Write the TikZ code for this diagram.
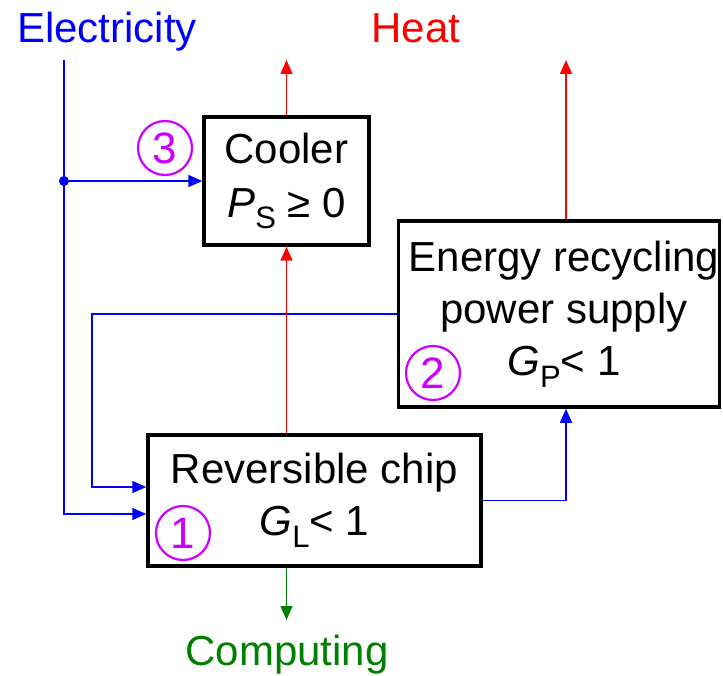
\documentclass[tikz,border=0pt]{standalone}
\usepackage{fontspec}
\setmainfont{Liberation Sans}
\usetikzlibrary{arrows.meta}
\definecolor{numcol}{RGB}{204,0,255}
\definecolor{compgreen}{RGB}{0,128,0}
\newcommand{\lowsub}[1]{\raisebox{-0.28em}{\fontsize{31}{31}\selectfont #1}}

\begin{document}
\begin{tikzpicture}[x=1pt, y=-1pt, >={Triangle[length=14pt,width=12pt]}]
    \tikzstyle{block} = [draw, line width=3.5pt, rectangle, align=center,
	inner sep=0pt, font=\fontsize{42}{52}\selectfont]
    \tikzstyle{flow} = [line width=1.6pt]
    \tikzstyle{label} = [anchor=base, inner sep=0pt, font=\fontsize{42}{52}\selectfont]
    \tikzstyle{num} = [draw=numcol, text=numcol, circle, line width=2.2pt,
	minimum size=54pt, inner sep=0pt, font=\fontsize{44}{44}\selectfont]
	\useasboundingbox (0,0) rectangle (723,676);

	% blocks
	\node[block, minimum width=165pt, minimum height=128pt] (cooler) at (286.5,181)
		{Cooler\\[2pt]\textit{P}\lowsub{S} ≥ 0};
	\node[block, minimum width=321pt, minimum height=186pt] (erps) at (559,314)
		{\hspace*{10pt}Energy recycling\\\hspace*{10pt}power supply\\\hspace*{10pt}\textit{G}\lowsub{P}< 1};
	\node[block, minimum width=333pt, minimum height=131pt] (chip) at (314.5,500.5)
		{Reversible chip\\\textit{G}\lowsub{L}< 1};

	% numbers
	\node[num] (n1) at (183,533) {1};
	\node[num] (n2) at (433,373) {2};
	\node[num] (n3) at (165,148) {3};

	% labels
	\node[label, text=blue] (elec) at (107,43) {Electricity};
	\node[label, text=red] (heat) at (416,43) {Heat};
	\node[label, text=compgreen] (comp) at (287,665) {Computing};

	\coordinate (etop) at (64,60);
	\coordinate (ejunc) at (64,181);
	\coordinate (ebot) at (64,514);
	\coordinate (fbx) at (92,314);
	\coordinate (hcool) at (286.5,60);
	\coordinate (herps) at (566,60);
	\coordinate (cout) at (286.5,620);

	% electricity
	\draw[flow, blue, ->] (etop) -- (ebot) -- ([yshift=-13.5pt]chip.west);
	\draw[flow, blue, ->] (ejunc) -- (cooler.west);
	\fill[blue] (ejunc) circle (5pt);
	% recycling loop
	\draw[flow, blue, ->] (erps.west) -- (fbx) |- ([yshift=13.5pt]chip.west);
	\draw[flow, blue, ->] (chip.east) -| ([xshift=7pt]erps.south);
	% heat
	\draw[flow, red, ->] (chip.north -| cooler.south) -- (cooler.south);
	\draw[flow, red, ->] (cooler.north) -- (hcool);
	\draw[flow, red, ->] ([xshift=7pt]erps.north) -- (herps);
	% computing
	\draw[flow, compgreen, ->] (chip.south -| cooler.south) -- (cout);
\end{tikzpicture}
\end{document}
